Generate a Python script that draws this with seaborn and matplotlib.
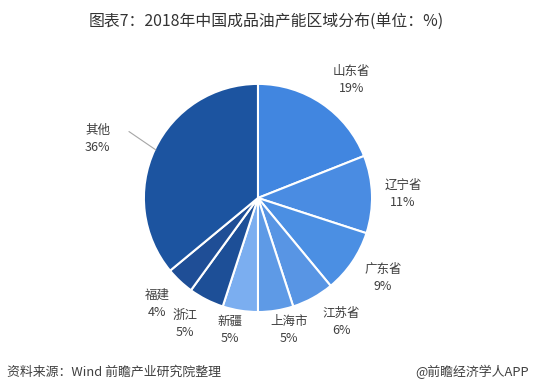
import matplotlib
matplotlib.use('Agg')
import matplotlib.pyplot as plt
import seaborn as sns
import numpy as np

sns.set_theme(style='white')
plt.rcParams['font.family'] = ['Noto Sans CJK SC', 'DejaVu Sans']

# data
regions = ['山东省', '辽宁省', '广东省', '江苏省', '上海市', '新疆', '浙江', '福建', '其他']
shares = [19, 11, 9, 6, 5, 5, 5, 4, 36]
colors = ['#4186E0', '#4A8CE2', '#4B8FE3', '#5895E4', '#5E9AE6',
          '#7BAEF0', '#1D4F97', '#1F4E96', '#1C54A0']
# label placement: angle shift from slice middle (deg) and distance (radii)
label_shift = [-4.1, -0.2, 1.6, 5.0, 4.2, -3.0, -3.1, -0.4, 4.9]
label_dist = [1.318, 1.272, 1.302, 1.309, 1.190, 1.184, 1.277, 1.284, 1.497]

fig = plt.figure(figsize=(5.33, 3.92), dpi=100)
ax = fig.add_axes([0.270, 0.204, 0.428, 0.582])

wedges, _ = ax.pie(shares, colors=colors, startangle=90, counterclock=False,
                   wedgeprops=dict(edgecolor='white', linewidth=1.5))
ax.set_xlim(-1.0, 1.0)
ax.set_ylim(-1.0, 1.0)
ax.set_aspect('equal')

for w, name, val, s, d in zip(wedges, regions, shares, label_shift, label_dist):
    ang = np.deg2rad((w.theta1 + w.theta2) / 2 + s)
    x, y = d * np.cos(ang), d * np.sin(ang)
    ax.text(x, y, f'{name}\n{val}%', ha='center', va='center', fontsize=9,
            color='#404040', linespacing=1.45)

# leader line for the largest slice
w = wedges[-1]
ang = np.deg2rad((w.theta1 + w.theta2) / 2)
ax.plot([0.99 * np.cos(ang), 1.25 * np.cos(ang)], [0.99 * np.sin(ang), 1.25 * np.sin(ang) + 0.05],
        color='#a6a6a6', linewidth=0.8, clip_on=False)

fig.text(0.5, 0.946, '图表7：2018年中国成品油产能区域分布(单位：%)', ha='center', va='center',
         fontsize=11.4, color='#333333')
fig.text(0.013, 0.051, '资料来源：Wind 前瞻产业研究院整理', ha='left', va='center',
         fontsize=9.3, color='#404040')
fig.text(0.993, 0.051, '@前瞻经济学人APP', ha='right', va='center',
         fontsize=9.3, color='#404040')

fig.savefig('out.png', dpi=100)
